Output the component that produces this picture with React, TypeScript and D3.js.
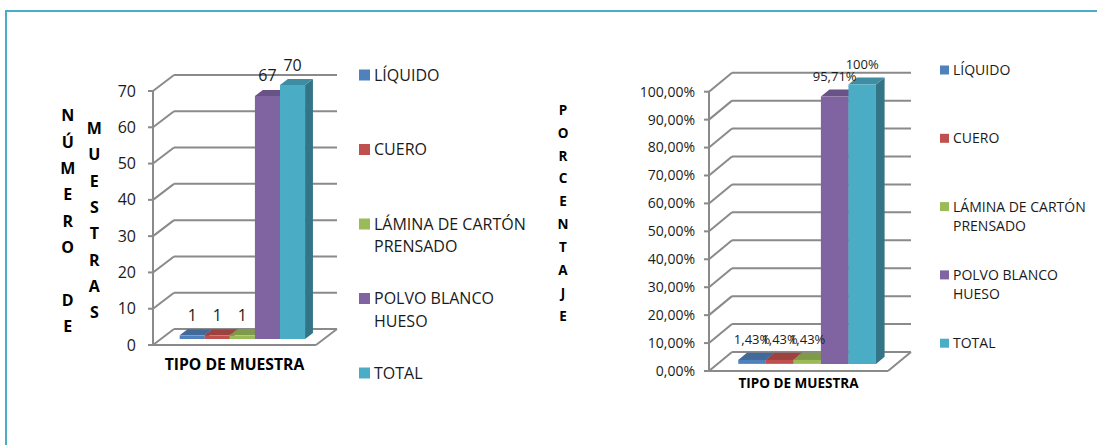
import React from 'react';
import * as d3 from 'd3';

// ---------- DATA ----------
const seriesNames = ['LÍQUIDO', 'CUERO', 'LÁMINA DE CARTÓN PRENSADO', 'POLVO BLANCO HUESO', 'TOTAL'];
const legendLines = [['LÍQUIDO'], ['CUERO'], ['LÁMINA DE CARTÓN', 'PRENSADO'], ['POLVO BLANCO', 'HUESO'], ['TOTAL']];
const seriesColors = ['#4F81BD', '#C0504D', '#9BBB59', '#8064A2', '#4BACC6'];
const countValues = [1, 1, 1, 67, 70];
const percentValues = [1.43, 1.43, 1.43, 95.71, 100];
const countTicks = [0, 10, 20, 30, 40, 50, 60, 70];
const percentTicks = [0, 10, 20, 30, 40, 50, 60, 70, 80, 90, 100];
const categoryLabel = 'TIPO DE MUESTRA';
const leftTitleColumns = ['NÚMERO DE', 'MUESTRAS'];
const rightTitle = 'PORCENTAJE';

// ---------- LAYOUT ----------
const FONT = '"Open Sans", "DejaVu Sans", sans-serif';
const GRID = '#8a8a8a';

type Cfg = {
  fl: number; fr: number; y0: number; yTop: number; max: number;
  dx: number; dy: number; tickGap: number; tickFont: number;
  labelFont: number; catY: number; catFont: number;
  legX: number; legY: number; legStep: number; legLine: number; legFont: number; legSq: number; legClip: number;
};

const leftCfg: Cfg = {
  fl: 153, fr: 316, y0: 345, yTop: 91, max: 70, dx: 21, dy: -16, tickGap: 17, tickFont: 16,
  labelFont: 16, catY: 364.5, catFont: 15.7,
  legX: 359, legY: 75, legStep: 74.5, legLine: 22.5, legFont: 16, legSq: 11, legClip: 526,
};
const rightCfg: Cfg = {
  fl: 709, fr: 888, y0: 371, yTop: 91.7, max: 100, dx: 23, dy: -19, tickGap: 14, tickFont: 14,
  labelFont: 13, catY: 383.5, catFont: 13.5,
  legX: 940, legY: 70, legStep: 68.3, legLine: 19.5, legFont: 14, legSq: 9, legClip: 1097,
};

const darken = (c: string, k: number) => d3.color(c)!.darker(k).formatHex();

function Chart3D({ cfg, values, ticks, tickFmt, labelFmt, id }: {
  cfg: Cfg; values: number[]; ticks: number[]; tickFmt: (v: number) => string; labelFmt: (v: number) => string; id: string;
}) {
  const y = d3.scaleLinear().domain([0, cfg.max]).range([cfg.y0, cfg.yTop]);
  const xb = d3.scaleBand<string>().domain(seriesNames).range([cfg.fl, cfg.fr]).paddingInner(0).paddingOuter(0.75);
  const w = xb.bandwidth();
  const f0 = 0.375, f1 = 0.75;
  const P = (px: number, py: number, f: number): [number, number] => [px + f * cfg.dx, py + f * cfg.dy];
  const poly = (pts: [number, number][]) => pts.map(p => p.join(',')).join(' ');

  return (
    <g>
      <polygon points={poly([[cfg.fl, cfg.y0], [cfg.fr, cfg.y0], P(cfg.fr, cfg.y0, 1), P(cfg.fl, cfg.y0, 1)])} fill="#fff" stroke="none" />
      {ticks.map(t => {
        const yt = y(t);
        const b0 = P(cfg.fl, yt, 1);
        const b1 = P(cfg.fr, yt, 1);
        return (
          <g key={t}>
            <line x1={b0[0]} y1={b0[1]} x2={b1[0]} y2={b1[1]} stroke={GRID} strokeWidth={2} />
            <line x1={cfg.fl} y1={yt} x2={b0[0]} y2={b0[1]} stroke={GRID} strokeWidth={2} />
            <line x1={cfg.fl - 5} y1={yt} x2={cfg.fl} y2={yt} stroke={GRID} strokeWidth={2} />
            <text x={cfg.fl - cfg.tickGap} y={yt} dy="0.35em" textAnchor="end" fontSize={cfg.tickFont} fontFamily={FONT} fill="#1a1a1a">{tickFmt(t)}</text>
          </g>
        );
      })}
      <line x1={cfg.fl} y1={cfg.y0} x2={cfg.fr} y2={cfg.y0} stroke={GRID} strokeWidth={2} />
      <line x1={cfg.fr} y1={cfg.y0} x2={P(cfg.fr, cfg.y0, 1)[0]} y2={P(cfg.fr, cfg.y0, 1)[1]} stroke={GRID} strokeWidth={2} />
      <line x1={cfg.fl} y1={cfg.y0} x2={cfg.fl} y2={y(cfg.max)} stroke={GRID} strokeWidth={2} />
      {seriesNames.map((s, i) => {
        const x = xb(s)!;
        const v = values[i];
        const yv = y(v);
        const c = seriesColors[i];
        const front = [P(x, cfg.y0, f0), P(x + w, cfg.y0, f0), P(x + w, yv, f0), P(x, yv, f0)];
        const top = [P(x, yv, f0), P(x + w, yv, f0), P(x + w, yv, f1), P(x, yv, f1)];
        const side = [P(x + w, cfg.y0, f0), P(x + w, yv, f0), P(x + w, yv, f1), P(x + w, cfg.y0, f1)];
        return (
          <g key={s}>
            <polygon points={poly(side)} fill={darken(c, 1.1)} />
            <polygon points={poly(top)} fill={darken(c, 0.55)} />
            <polygon points={poly(front)} fill={c} />
          </g>
        );
      })}
      {seriesNames.map((s, i) => {
        const x = xb(s)! + w / 2;
        const p = P(x, y(values[i]), f0);
        return (
          <text key={s} x={p[0]} y={p[1] - 20} dy="0.35em" textAnchor="middle" fontSize={cfg.labelFont} fontFamily={FONT} fill="#1a1a1a">{labelFmt(values[i])}</text>
        );
      })}
      <text x={(cfg.fl + cfg.fr) / 2} y={cfg.catY} dy="0.35em" textAnchor="middle" fontSize={cfg.catFont} fontWeight="bold" fontFamily={FONT} fill="#000">{categoryLabel}</text>
      <defs>
        <clipPath id={id + '-clip'}>
          <rect x={cfg.legX - 5} y={0} width={cfg.legClip - cfg.legX + 5} height={445} />
        </clipPath>
      </defs>
      <g clipPath={`url(#${id}-clip)`}>
        {legendLines.map((lines, i) => {
          const cy = cfg.legY + i * cfg.legStep;
          return (
            <g key={i}>
              <rect x={cfg.legX} y={cy - cfg.legSq / 2} width={cfg.legSq} height={cfg.legSq} fill={seriesColors[i]} />
              {lines.map((ln, j) => (
                <text key={j} x={cfg.legX + cfg.legSq + 4} y={cy + j * cfg.legLine} dy="0.35em" fontSize={cfg.legFont} fontFamily={FONT} fill="#1a1a1a">{ln}</text>
              ))}
            </g>
          );
        })}
      </g>
    </g>
  );
}

const countFmt = (v: number) => String(v);
const pctTickFmt = (v: number) => v.toFixed(2).replace('.', ',') + '%';
const pctLabelFmt = (v: number) => (Number.isInteger(v) ? String(v) : v.toFixed(2).replace('.', ',')) + '%';

export default function App() {
  return (
    <svg width={1097} height={445} style={{ position: 'absolute', left: 0, top: 0, background: '#fff' }}>
      <rect x={0} y={0} width={1097} height={445} fill="#fff" />
      <line x1={6} y1={11} x2={1097} y2={11} stroke="#4BACC6" strokeWidth={2} />
      <line x1={6} y1={10} x2={6} y2={445} stroke="#4BACC6" strokeWidth={2} />

      {leftTitleColumns.map((col, ci) => {
        const chars = col.split('');
        const step = 26.35;
        const startY = ci === 0 ? 115.7 : 128.2;
        const cx = ci === 0 ? 67.7 : 94.3;
        return chars.map((ch, k) => (
          <text key={ci + '-' + k} x={cx} y={startY + k * step} dy="0.35em" textAnchor="middle" fontSize={16} fontWeight="bold" fontFamily={FONT} fill="#000">{ch}</text>
        ));
      })}
      {rightTitle.split('').map((ch, k) => (
        <text key={'r' + k} x={563} y={110 + k * 22.9} dy="0.35em" textAnchor="middle" fontSize={13.5} fontWeight="bold" fontFamily={FONT} fill="#000">{ch}</text>
      ))}

      <Chart3D id="left" cfg={leftCfg} values={countValues} ticks={countTicks} tickFmt={countFmt} labelFmt={countFmt} />
      <Chart3D id="right" cfg={rightCfg} values={percentValues} ticks={percentTicks} tickFmt={pctTickFmt} labelFmt={pctLabelFmt} />
    </svg>
  );
}
